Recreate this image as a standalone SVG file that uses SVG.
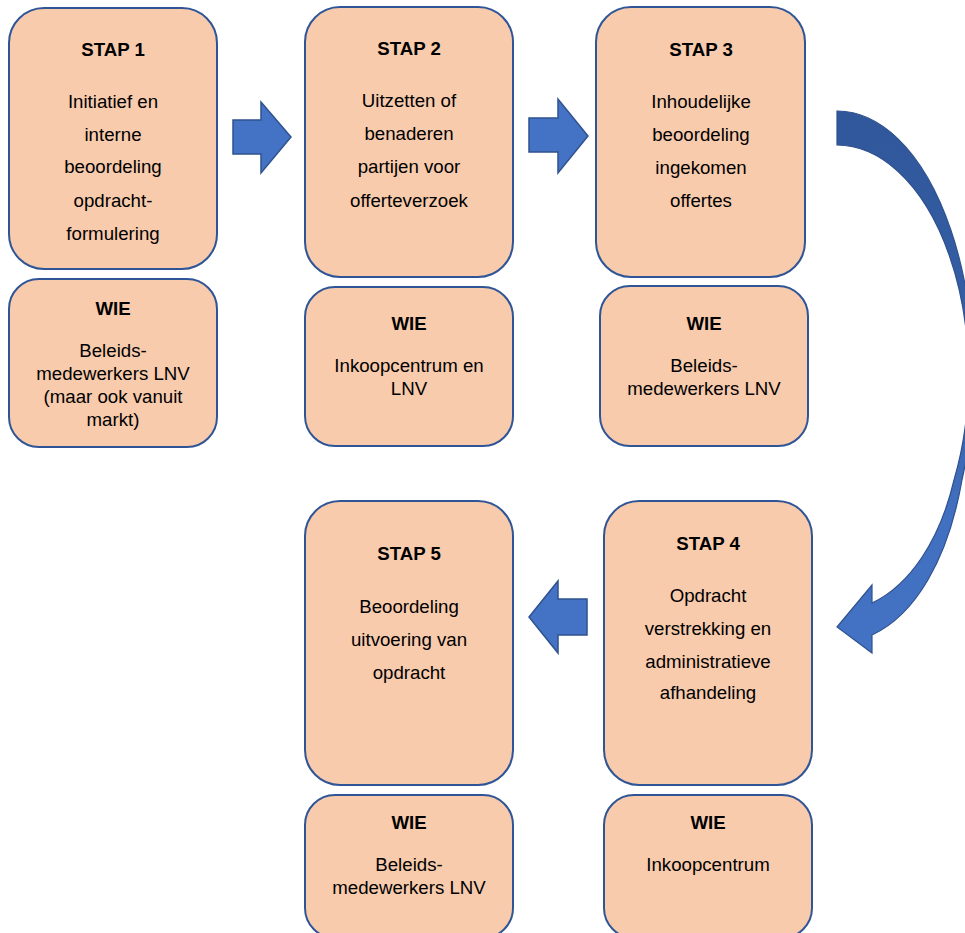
<svg xmlns="http://www.w3.org/2000/svg" width="965" height="933" viewBox="0 0 965 933">
<style>
.box{fill:#F8CBAD;stroke:#2F5597;stroke-width:2}
.t{font-family:"Liberation Sans",Arial,sans-serif;font-size:18.67px;fill:#000;text-anchor:middle}
.b{font-weight:bold}
.arr{fill:#4472C4;stroke:#2F528F;stroke-width:1.5;stroke-linejoin:miter}
</style>
<defs>
<linearGradient id="cg" gradientUnits="userSpaceOnUse" x1="0" y1="111" x2="0" y2="653">
<stop offset="0" stop-color="#30579A"/>
<stop offset="0.5" stop-color="#3760A8"/>
<stop offset="0.75" stop-color="#4270C0"/>
<stop offset="1" stop-color="#4472C4"/>
</linearGradient>
</defs>
<rect width="965" height="933" fill="#fff"/>
<g id="stap1">
<rect class="box" x="9" y="8" width="208" height="261" rx="35"/>
<text class="t b" x="113" y="56">STAP 1</text>
<text class="t" x="113" y="108">Initiatief en</text>
<text class="t" x="113" y="141">interne</text>
<text class="t" x="113" y="173">beoordeling</text>
<text class="t" x="113" y="207">opdracht-</text>
<text class="t" x="113" y="240">formulering</text>
</g>
<g id="wie1">
<rect class="box" x="9" y="279" width="208" height="168" rx="30"/>
<text class="t b" x="113" y="315">WIE</text>
<text class="t" x="113" y="357">Beleids-</text>
<text class="t" x="113" y="380">medewerkers LNV</text>
<text class="t" x="113" y="403">(maar ook vanuit</text>
<text class="t" x="113" y="426">markt)</text>
</g>
<g id="stap2">
<rect class="box" x="305" y="7" width="208" height="270" rx="35"/>
<text class="t b" x="409" y="55">STAP 2</text>
<text class="t" x="409" y="107">Uitzetten of</text>
<text class="t" x="409" y="140">benaderen</text>
<text class="t" x="409" y="173">partijen voor</text>
<text class="t" x="409" y="207">offerteverzoek</text>
</g>
<g id="wie2">
<rect class="box" x="305" y="287" width="208" height="159" rx="30"/>
<text class="t b" x="409" y="330">WIE</text>
<text class="t" x="409" y="372">Inkoopcentrum en</text>
<text class="t" x="409" y="395">LNV</text>
</g>
<g id="stap3">
<rect class="box" x="596" y="7" width="209" height="270" rx="35"/>
<text class="t b" x="701" y="56">STAP 3</text>
<text class="t" x="701" y="108">Inhoudelijke</text>
<text class="t" x="701" y="141">beoordeling</text>
<text class="t" x="701" y="174">ingekomen</text>
<text class="t" x="701" y="207">offertes</text>
</g>
<g id="wie3">
<rect class="box" x="600" y="286" width="208" height="160" rx="30"/>
<text class="t b" x="704" y="330">WIE</text>
<text class="t" x="704" y="372">Beleids-</text>
<text class="t" x="704" y="395">medewerkers LNV</text>
</g>
<g id="stap4">
<rect class="box" x="604" y="501" width="208" height="284" rx="35"/>
<text class="t b" x="708" y="550">STAP 4</text>
<text class="t" x="708" y="602">Opdracht</text>
<text class="t" x="708" y="635">verstrekking en</text>
<text class="t" x="708" y="668">administratieve</text>
<text class="t" x="708" y="699">afhandeling</text>
</g>
<g id="wie4">
<rect class="box" x="604" y="795" width="208" height="143" rx="30"/>
<text class="t b" x="708" y="829">WIE</text>
<text class="t" x="708" y="871">Inkoopcentrum</text>
</g>
<g id="stap5">
<rect class="box" x="305" y="501" width="208" height="284" rx="35"/>
<text class="t b" x="409" y="560">STAP 5</text>
<text class="t" x="409" y="613">Beoordeling</text>
<text class="t" x="409" y="646">uitvoering van</text>
<text class="t" x="409" y="679">opdracht</text>
</g>
<g id="wie5">
<rect class="box" x="305" y="795" width="208" height="143" rx="30"/>
<text class="t b" x="409" y="829">WIE</text>
<text class="t" x="409" y="871">Beleids-</text>
<text class="t" x="409" y="894">medewerkers LNV</text>
</g>
<g id="connectors">
<path class="arr" d="M233,120 H261 V102 L291,137 L261,173 V154 H233 Z"/>
<path class="arr" d="M529,118 H558 V99 L588,136 L558,173 V152 H529 Z"/>
<path class="arr" d="M587,599 H558 V581 L529,617 L558,653 V635 H587 Z"/>
<path d="M837,111 A136,264 0 0 1 962,480 C948,560 915,615 872,635 L872,653 L837,627 L872,585 L872,603 C910,585 940,540 954,480 A132,230 0 0 0 837,145 Z" fill="url(#cg)" stroke="#2F528F" stroke-width="1.2"/>
</g>
</svg>
